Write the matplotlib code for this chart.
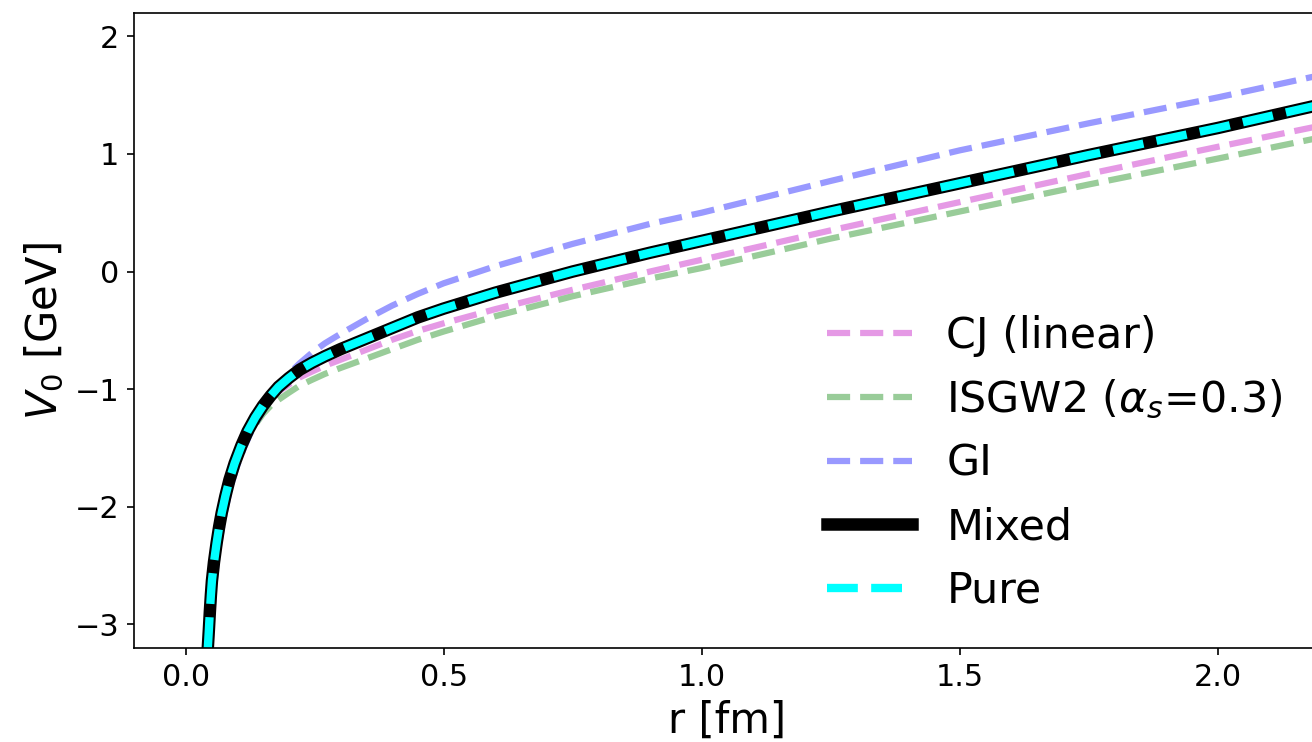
import matplotlib
matplotlib.use("Agg")
import matplotlib.pyplot as plt

# ---- data (r in fm, V0 in GeV) ----
r_mixed = [0.043, 0.045, 0.047, 0.049, 0.051, 0.055, 0.060, 0.065, 0.070, 0.077,
           0.085, 0.095, 0.108, 0.120, 0.135, 0.150, 0.165, 0.180, 0.200, 0.221,
           0.245, 0.270, 0.300, 0.350, 0.400, 0.450, 0.500, 0.600, 0.750, 0.900,
           1.000, 1.250, 1.500, 1.750, 2.000, 2.200]
v_mixed = [-3.20, -3.05, -2.89, -2.75, -2.63, -2.47, -2.31, -2.17, -2.05, -1.91,
           -1.77, -1.63, -1.48, -1.36, -1.24, -1.14, -1.055, -0.98, -0.905, -0.835,
           -0.775, -0.72, -0.66, -0.57, -0.48, -0.39, -0.315, -0.18, 0.00, 0.16,
           0.26, 0.51, 0.75, 0.99, 1.22, 1.42]

r_pure = list(r_mixed)
v_pure = list(v_mixed)

r_cj = [0.040, 0.042, 0.044, 0.046, 0.048, 0.052, 0.057, 0.062, 0.067, 0.074,
        0.082, 0.092, 0.105, 0.117, 0.132, 0.148, 0.165, 0.180, 0.200, 0.221,
        0.245, 0.270, 0.300, 0.350, 0.400, 0.450, 0.500, 0.600, 0.750, 0.900,
        1.000, 1.250, 1.500, 1.750, 2.000, 2.200]
v_cj = [-3.20, -3.05, -2.89, -2.75, -2.63, -2.47, -2.31, -2.17, -2.05, -1.91,
        -1.77, -1.63, -1.48, -1.37, -1.25, -1.16, -1.08, -1.02, -0.96, -0.90,
        -0.85, -0.80, -0.75, -0.665, -0.58, -0.505, -0.44, -0.32, -0.155, 0.00,
        0.10, 0.35, 0.59, 0.83, 1.06, 1.24]

r_isgw2 = [0.045, 0.047, 0.049, 0.051, 0.053, 0.057, 0.062, 0.067, 0.072, 0.079,
           0.087, 0.097, 0.110, 0.122, 0.137, 0.150, 0.165, 0.180, 0.200, 0.221,
           0.245, 0.270, 0.300, 0.350, 0.400, 0.450, 0.500, 0.600, 0.750, 0.900,
           1.000, 1.250, 1.500, 1.750, 2.000, 2.200]
v_isgw2 = [-3.20, -3.05, -2.89, -2.75, -2.63, -2.47, -2.31, -2.17, -2.05, -1.91,
           -1.77, -1.64, -1.50, -1.40, -1.29, -1.21, -1.14, -1.09, -1.03, -0.97,
           -0.92, -0.87, -0.82, -0.74, -0.66, -0.58, -0.51, -0.38, -0.21, -0.06,
           0.03, 0.28, 0.51, 0.74, 0.96, 1.14]

r_gi = [0.048, 0.050, 0.052, 0.054, 0.056, 0.060, 0.065, 0.070, 0.075, 0.082,
        0.090, 0.100, 0.113, 0.125, 0.140, 0.155, 0.170, 0.185, 0.200, 0.221,
        0.245, 0.270, 0.300, 0.350, 0.400, 0.450, 0.500, 0.600, 0.750, 0.900,
        1.000, 1.250, 1.500, 1.750, 2.000, 2.200]
v_gi = [-3.20, -3.05, -2.89, -2.76, -2.64, -2.48, -2.32, -2.19, -2.07, -1.93,
        -1.79, -1.65, -1.50, -1.38, -1.26, -1.15, -1.05, -0.96, -0.87, -0.78,
        -0.69, -0.61, -0.53, -0.405, -0.29, -0.19, -0.10, 0.045, 0.235, 0.405,
        0.50, 0.77, 1.03, 1.26, 1.48, 1.67]

labels = ["CJ (linear)", r"ISGW2 ($\alpha_s$=0.3)", "GI", "Mixed", "Pure"]
x_ticks = [0.0, 0.5, 1.0, 1.5, 2.0]
y_ticks = [-3, -2, -1, 0, 1, 2]

W, H, DPI = 1312, 742, 150
fig = plt.figure(figsize=(W / DPI, H / DPI), dpi=DPI)
left, right, top, bottom = 134, 1321, 12.7, 648
ax = fig.add_axes([left / W, 1 - bottom / H, (right - left) / W, (bottom - top) / H])

ax.plot(r_cj, v_cj, ls="--", lw=3, color="m", alpha=0.4, label=labels[0])
ax.plot(r_isgw2, v_isgw2, ls="--", lw=3, color="g", alpha=0.4, label=labels[1])
ax.plot(r_gi, v_gi, ls="--", lw=3, color="b", alpha=0.4, label=labels[2])
ax.plot(r_mixed, v_mixed, ls="-", lw=6, color="black", label=labels[3])
ax.plot(r_pure, v_pure, ls="--", lw=4, color="cyan", label=labels[4])

ax.set_xlim(-0.1, 2.2)
ax.set_ylim(-3.2, 2.2)
ax.set_xticks(x_ticks)
ax.set_yticks(y_ticks)
ax.tick_params(labelsize=14.5)
ax.set_xlabel("r [fm]", fontsize=20)
ax.set_ylabel(r"$V_0$ [GeV]", fontsize=20)

ax.legend(loc="lower right", bbox_to_anchor=(1.0, -0.003),
          fontsize=20.5, frameon=False)

fig.savefig("out.png", dpi=DPI)
